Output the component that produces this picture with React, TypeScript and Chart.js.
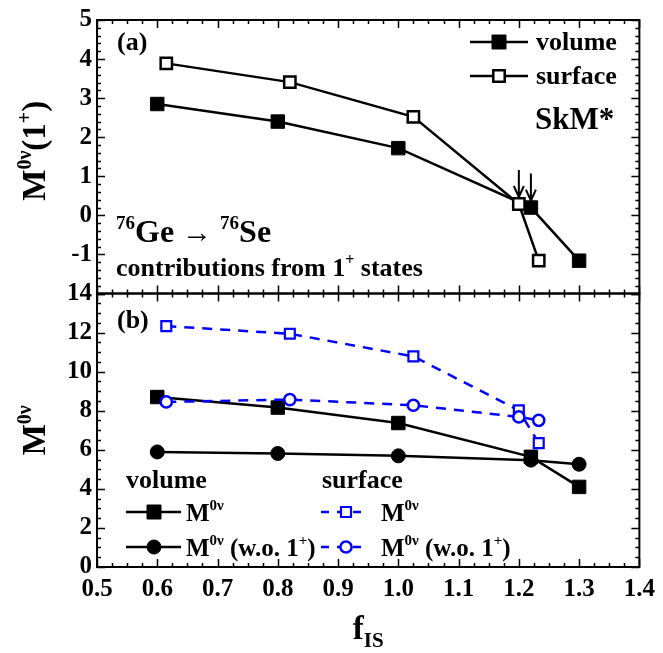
import React, { useEffect, useRef } from "react";
import { Chart, registerables } from "chart.js";

Chart.register(...registerables);

// ---------- data ----------
const fVolume = [0.6, 0.8, 1.0, 1.22, 1.3];
const fSurface = [0.615, 0.82, 1.025, 1.2, 1.233];

// panel (a): contributions from 1+ states
const m1Volume = [2.85, 2.4, 1.72, 0.2, -1.16];
const m1Surface = [3.89, 3.41, 2.52, 0.29, -1.16];

// panel (b): total M0v and M0v without 1+
const mVolume = [8.7, 8.16, 7.37, 5.64, 4.1];
const mVolumeNo1 = [5.89, 5.81, 5.69, 5.47, 5.26];
const mSurface = [12.33, 11.94, 10.78, 8.02, 6.34];
const mSurfaceNo1 = [8.45, 8.57, 8.28, 7.68, 7.51];

const xTicks = [0.5, 0.6, 0.7, 0.8, 0.9, 1.0, 1.1, 1.2, 1.3, 1.4];
const topTicks = [-1, 0, 1, 2, 3, 4, 5];
const bottomTicks = [0, 2, 4, 6, 8, 10, 12, 14];

const FF = "'Liberation Serif', 'Times New Roman', serif";
const BLUE = "#0000ff";

type Seg = { t: string; s: number; dy?: number; w?: string };

function drawRich(ctx: CanvasRenderingContext2D, segs: Seg[], x: number, y: number, align: string) {
  let total = 0;
  const ws = segs.map((g) => {
    ctx.font = `${g.w ?? "bold"} ${g.s}px ${FF}`;
    const w = ctx.measureText(g.t).width;
    total += w;
    return w;
  });
  let cx = align === "center" ? x - total / 2 : align === "right" ? x - total : x;
  ctx.textAlign = "left";
  ctx.textBaseline = "alphabetic";
  segs.forEach((g, i) => {
    ctx.font = `${g.w ?? "bold"} ${g.s}px ${FF}`;
    ctx.fillText(g.t, cx, y + (g.dy || 0));
    cx += ws[i];
  });
}

function marker(
  ctx: CanvasRenderingContext2D,
  style: string,
  x: number,
  y: number,
  half: number,
  fill: string,
  stroke: string,
  lw: number
) {
  ctx.save();
  ctx.beginPath();
  if (style === "rect") ctx.rect(x - half, y - half, half * 2, half * 2);
  else ctx.arc(x, y, half, 0, Math.PI * 2);
  ctx.fillStyle = fill;
  ctx.fill();
  ctx.lineWidth = lw;
  ctx.strokeStyle = stroke;
  ctx.setLineDash([]);
  ctx.stroke();
  ctx.restore();
}

function legendLine(
  ctx: CanvasRenderingContext2D,
  x0: number,
  x1: number,
  y: number,
  color: string,
  dash: number[]
) {
  ctx.save();
  ctx.beginPath();
  ctx.moveTo(x0, y);
  ctx.lineTo(x1, y);
  ctx.lineWidth = 2.5;
  ctx.strokeStyle = color;
  ctx.setLineDash(dash);
  ctx.stroke();
  ctx.restore();
}

const decorPlugin = {
  id: "decor",
  afterDraw(chart: any) {
    const ctx: CanvasRenderingContext2D = chart.ctx;
    const area = chart.chartArea;
    const xs = chart.scales.x;
    const yA = chart.scales.yA;
    const yB = chart.scales.yB;
    ctx.save();
    ctx.fillStyle = "#000";
    ctx.strokeStyle = "#000";

    // frames and inward ticks
    const panels = [
      { s: yA, min: -2, max: 5, minor: 0.2, major: 1 },
      { s: yB, min: 0, max: 14, minor: 0.5, major: 2 },
    ];
    panels.forEach((p) => {
      const top = p.s.top;
      const bot = p.s.bottom;
      ctx.lineWidth = 2;
      ctx.strokeRect(area.left, top, area.right - area.left, bot - top);
      ctx.lineWidth = 1.5;
      ctx.beginPath();
      // x ticks
      const nx = Math.round((1.4 - 0.5) / 0.025);
      for (let i = 0; i <= nx; i++) {
        const v = 0.5 + i * 0.025;
        const px = Math.round(xs.getPixelForValue(v)) + 0.5;
        const len = i % 4 === 0 ? 8 : 4;
        ctx.moveTo(px, top);
        ctx.lineTo(px, top + len);
        ctx.moveTo(px, bot);
        ctx.lineTo(px, bot - len);
      }
      // y ticks
      const ny = Math.round((p.max - p.min) / p.minor);
      const per = Math.round(p.major / p.minor);
      for (let i = 0; i <= ny; i++) {
        const v = p.min + i * p.minor;
        const py = Math.round(p.s.getPixelForValue(v)) + 0.5;
        const len = i % per === 0 ? 8 : 4;
        ctx.moveTo(area.left, py);
        ctx.lineTo(area.left + len, py);
        ctx.moveTo(area.right, py);
        ctx.lineTo(area.right - len, py);
      }
      ctx.stroke();
    });

    // arrows above the points near f = 1.2 in panel (a)
    const arrowPts = [
      [fSurface[3], m1Surface[3]],
      [fVolume[3], m1Volume[3]],
    ];
    ctx.lineWidth = 2;
    arrowPts.forEach(([f, v]) => {
      const px = xs.getPixelForValue(f);
      const py = yA.getPixelForValue(v);
      const tip = py - 7;
      ctx.beginPath();
      ctx.moveTo(px, tip - 27);
      ctx.lineTo(px, tip);
      ctx.moveTo(px - 5, tip - 11);
      ctx.lineTo(px, tip);
      ctx.lineTo(px + 5, tip - 11);
      ctx.stroke();
    });

    // panel (a) texts
    drawRich(ctx, [{ t: "(a)", s: 26 }], 117, 50, "left");
    legendLine(ctx, 470, 528, 42, "#000", []);
    marker(ctx, "rect", 499, 42, 7, "#000", "#000", 1);
    legendLine(ctx, 470, 528, 76, "#000", []);
    marker(ctx, "rect", 499, 76, 5.7, "#fff", "#000", 2.5);
    drawRich(ctx, [{ t: "volume", s: 26 }], 536, 50, "left");
    drawRich(ctx, [{ t: "surface", s: 26 }], 536, 84, "left");
    drawRich(ctx, [{ t: "SkM*", s: 31 }], 535, 129, "left");
    drawRich(
      ctx,
      [
        { t: "76", s: 19, dy: -13 },
        { t: "Ge ", s: 32 },
        { t: "\u2192", s: 30, w: "normal" },
        { t: " ", s: 32 },
        { t: "76", s: 19, dy: -13 },
        { t: "Se", s: 32 },
      ],
      116,
      242,
      "left"
    );
    drawRich(
      ctx,
      [
        { t: "contributions from 1", s: 26 },
        { t: "+", s: 16, dy: -11 },
        { t: " states", s: 26 },
      ],
      116,
      276,
      "left"
    );

    // panel (b) texts
    drawRich(ctx, [{ t: "(b)", s: 26 }], 117, 328, "left");
    drawRich(ctx, [{ t: "volume", s: 26 }], 126, 488, "left");
    drawRich(ctx, [{ t: "surface", s: 26 }], 322, 488, "left");
    // legend rows
    legendLine(ctx, 126, 181, 512, "#000", []);
    marker(ctx, "rect", 154, 512, 7, "#000", "#000", 1);
    legendLine(ctx, 126, 181, 547, "#000", []);
    marker(ctx, "circle", 154, 547, 7, "#000", "#000", 1);
    legendLine(ctx, 321, 368, 512, BLUE, [8, 8]);
    marker(ctx, "rect", 346, 512, 5, "#fff", BLUE, 2.2);
    legendLine(ctx, 321, 368, 547, BLUE, [8, 8]);
    marker(ctx, "circle", 346, 547, 5.6, "#fff", BLUE, 2.5);
    ctx.fillStyle = "#000";
    const mSeg: Seg[] = [
      { t: "M", s: 25 },
      { t: "0\u03bd", s: 15, dy: -11 },
    ];
    drawRich(ctx, mSeg, 186, 521, "left");
    drawRich(ctx, [...mSeg, { t: " (w.o. 1", s: 25 }, { t: "+", s: 15, dy: -11 }, { t: ")", s: 25 }], 186, 556, "left");
    drawRich(ctx, mSeg, 381, 521, "left");
    drawRich(ctx, [...mSeg, { t: " (w.o. 1", s: 25 }, { t: "+", s: 15, dy: -11 }, { t: ")", s: 25 }], 381, 556, "left");

    // axis titles
    ctx.save();
    ctx.translate(45, (yA.top + yA.bottom) / 2 - 6);
    ctx.rotate(-Math.PI / 2);
    drawRich(
      ctx,
      [
        { t: "M", s: 33 },
        { t: "0\u03bd", s: 20, dy: -14 },
        { t: "(1", s: 33 },
        { t: "+", s: 20, dy: -14 },
        { t: ")", s: 33 },
      ],
      0,
      0,
      "center"
    );
    ctx.restore();
    ctx.save();
    ctx.translate(45, (yB.top + yB.bottom) / 2);
    ctx.rotate(-Math.PI / 2);
    drawRich(
      ctx,
      [
        { t: "M", s: 33 },
        { t: "0\u03bd", s: 20, dy: -14 },
      ],
      0,
      0,
      "center"
    );
    ctx.restore();
    drawRich(
      ctx,
      [
        { t: "f", s: 33 },
        { t: "IS", s: 21, dy: 8 },
      ],
      (area.left + area.right) / 2,
      639,
      "center"
    );
    ctx.restore();
  },
};

const tickFont = { family: FF, size: 25, weight: "bold" as const };

export default function App() {
  const ref = useRef<HTMLCanvasElement | null>(null);
  useEffect(() => {
    if (!ref.current) return;
    const pts = (xs: number[], ys: number[]) => xs.map((x, i) => ({ x, y: ys[i] }));
    const chart = new Chart(ref.current, {
      type: "line",
      data: {
        datasets: [
          {
            label: "surface M0v (w.o. 1+)",
            yAxisID: "yB",
            data: pts(fSurface, mSurfaceNo1),
            borderColor: BLUE,
            borderWidth: 2.5,
            borderDash: [10, 8],
            pointStyle: "circle",
            pointRadius: 5.6,
            pointBorderWidth: 2.5,
            pointBackgroundColor: "#fff",
            pointBorderColor: BLUE,
          },
          {
            label: "surface M0v",
            yAxisID: "yB",
            data: pts(fSurface, mSurface),
            borderColor: BLUE,
            borderWidth: 2.5,
            borderDash: [10, 8],
            pointStyle: "rect",
            pointRadius: 7,
            pointBorderWidth: 2.2,
            pointBackgroundColor: "#fff",
            pointBorderColor: BLUE,
          },
          {
            label: "volume M0v (w.o. 1+)",
            yAxisID: "yB",
            data: pts(fVolume, mVolumeNo1),
            borderColor: "#000",
            borderWidth: 2.5,
            pointStyle: "circle",
            pointRadius: 7,
            pointBorderWidth: 1,
            pointBackgroundColor: "#000",
            pointBorderColor: "#000",
          },
          {
            label: "volume M0v",
            yAxisID: "yB",
            data: pts(fVolume, mVolume),
            borderColor: "#000",
            borderWidth: 2.5,
            pointStyle: "rect",
            pointRadius: 9.5,
            pointBorderWidth: 1,
            pointBackgroundColor: "#000",
            pointBorderColor: "#000",
          },
          {
            label: "surface M0v(1+)",
            yAxisID: "yA",
            data: pts(fSurface, m1Surface),
            borderColor: "#000",
            borderWidth: 2.5,
            pointStyle: "rect",
            pointRadius: 8,
            pointBorderWidth: 2.5,
            pointBackgroundColor: "#fff",
            pointBorderColor: "#000",
          },
          {
            label: "volume M0v(1+)",
            yAxisID: "yA",
            data: pts(fVolume, m1Volume),
            borderColor: "#000",
            borderWidth: 2.5,
            pointStyle: "rect",
            pointRadius: 9.5,
            pointBorderWidth: 1,
            pointBackgroundColor: "#000",
            pointBorderColor: "#000",
          },
        ],
      },
      options: {
        responsive: false,
        animation: false,
        layout: { padding: { left: 0, right: 20, top: 15, bottom: 0 } },
        plugins: { legend: { display: false }, tooltip: { enabled: false } },
        elements: { line: { tension: 0 } },
        scales: {
          x: {
            type: "linear",
            min: 0.5,
            max: 1.4,
            grid: { display: false, drawTicks: false },
            border: { display: false },
            afterBuildTicks: (s: any) => {
              s.ticks = xTicks.map((v) => ({ value: v }));
            },
            afterFit: (s: any) => {
              s.height = 86;
            },
            ticks: {
              font: tickFont,
              color: "#000",
              padding: 8,
              autoSkip: false,
              maxRotation: 0,
              callback: (v: any) => Number(v).toFixed(1),
            },
          },
          yB: {
            type: "linear",
            position: "left",
            stack: "panels",
            stackWeight: 1,
            min: 0,
            max: 14,
            grid: { display: false, drawTicks: false },
            border: { display: false },
            afterBuildTicks: (s: any) => {
              s.ticks = bottomTicks.map((v) => ({ value: v }));
            },
            afterFit: (s: any) => {
              s.width = 97;
            },
            ticks: { font: tickFont, color: "#000", padding: 5, autoSkip: false },
          },
          yA: {
            type: "linear",
            position: "left",
            stack: "panels",
            stackWeight: 1,
            min: -2,
            max: 5,
            grid: { display: false, drawTicks: false },
            border: { display: false },
            afterBuildTicks: (s: any) => {
              s.ticks = topTicks.map((v) => ({ value: v }));
            },
            afterFit: (s: any) => {
              s.width = 97;
            },
            ticks: { font: tickFont, color: "#000", padding: 5, autoSkip: false },
          },
        },
      } as any,
      plugins: [decorPlugin],
    });
    return () => chart.destroy();
  }, []);
  return (
    <div style={{ position: "absolute", left: 0, top: 0, width: 663, height: 653, background: "#fff" }}>
      <canvas ref={ref} width={663} height={653} style={{ display: "block" }} />
    </div>
  );
}
